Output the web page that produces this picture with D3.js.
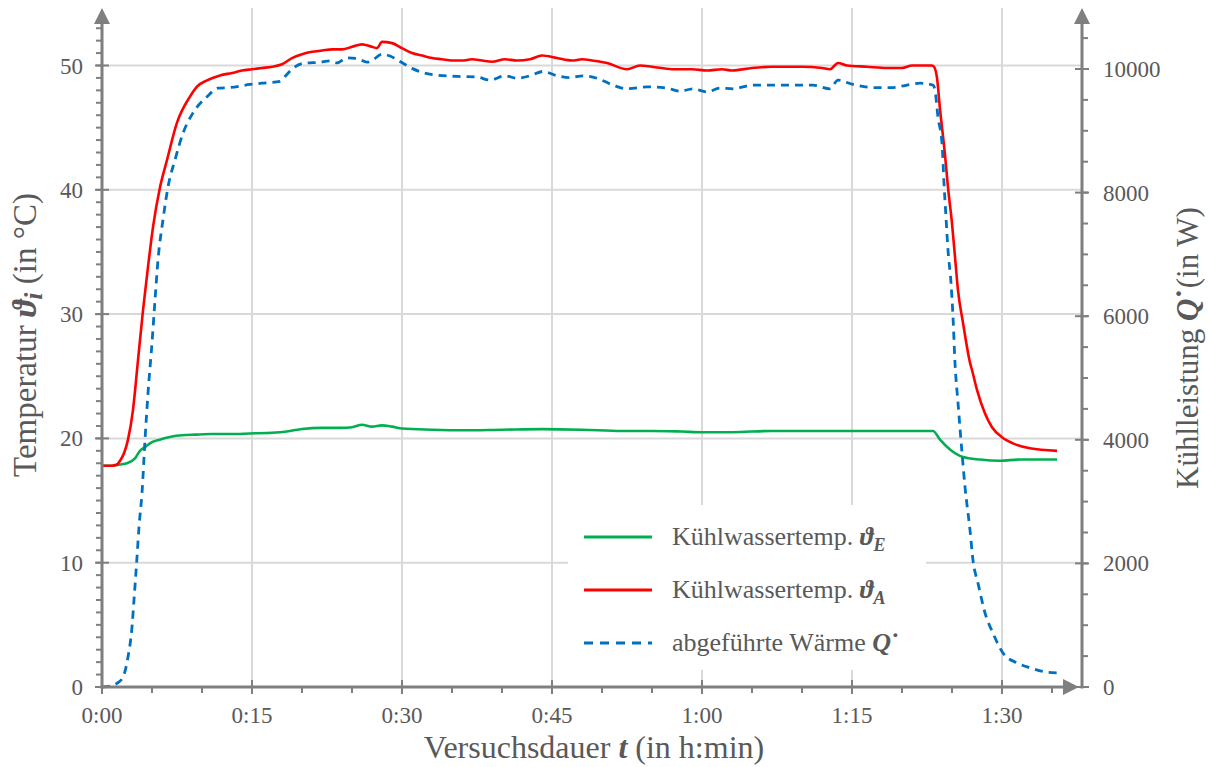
<!DOCTYPE html>
<html>
<head>
<meta charset="utf-8">
<script src="https://cdn.jsdelivr.net/npm/d3@7"></script>
<style>
  body { margin: 0; background: #fff; }
</style>
</head>
<body>
<div id="container"></div>
<script>
// time in minutes
const tE = [0, 1, 1.8, 2.5, 3.3, 3.8, 4.3, 5, 5.8, 7, 8, 9.3, 11, 13, 14.8, 17, 18.8, 20, 22, 24, 25, 26, 27, 28, 29, 30, 33, 36, 40, 44, 48, 52, 55, 58, 60, 63, 67, 70, 75, 80, 83.1, 83.8, 84.8, 86.1, 87.8, 89.8, 91.8, 95.5];
const vE = [17.8, 17.8, 17.9, 18.0, 18.4, 19.0, 19.3, 19.7, 19.9, 20.15, 20.25, 20.3, 20.35, 20.35, 20.4, 20.45, 20.6, 20.75, 20.85, 20.85, 20.9, 21.1, 20.95, 21.05, 20.95, 20.8, 20.7, 20.65, 20.7, 20.75, 20.7, 20.6, 20.6, 20.55, 20.5, 20.5, 20.6, 20.6, 20.6, 20.6, 20.6, 19.9, 19.1, 18.5, 18.3, 18.2, 18.3, 18.3];

const tA = [0, 1, 1.5, 1.8, 2.2, 2.6, 3.1, 3.6, 4.1, 4.6, 5.1, 5.8, 6.5, 7.5, 8.8, 9.5, 10.5, 11.8, 13, 14, 15, 16, 17, 18, 19, 20, 21, 22, 23, 24, 25, 26, 27, 27.5, 28, 29, 30, 31, 32, 33, 34, 35, 36, 37, 38, 39, 40.3, 41.5, 42.8, 44, 45.5, 47, 48, 49, 50.5, 52.5, 53.8, 55, 57, 59, 60.5, 62, 63, 65, 67, 70, 72, 72.8, 73.6, 74.5, 76.5, 78.5, 80, 81, 83, 83.2, 83.5, 83.8, 84.3, 84.6, 85, 85.3, 85.6, 86.1, 86.8, 87, 87.5, 88.3, 89, 90, 91.1, 92.8, 95.5];
const vA = [17.8, 17.8, 17.9, 18.2, 18.8, 19.9, 22.3, 26.3, 30.3, 33.8, 37.0, 40.2, 42.4, 45.4, 47.5, 48.3, 48.8, 49.2, 49.4, 49.6, 49.7, 49.8, 49.9, 50.1, 50.6, 50.9, 51.1, 51.2, 51.3, 51.3, 51.5, 51.7, 51.5, 51.4, 51.9, 51.8, 51.4, 51.0, 50.8, 50.6, 50.5, 50.4, 50.4, 50.5, 50.4, 50.3, 50.5, 50.4, 50.5, 50.8, 50.6, 50.4, 50.5, 50.4, 50.2, 49.7, 50.0, 49.9, 49.7, 49.7, 49.6, 49.7, 49.6, 49.8, 49.9, 49.9, 49.8, 49.7, 50.2, 50.0, 49.9, 49.8, 49.8, 50.0, 50.0, 49.9, 49.0, 46.5, 42.8, 40.2, 37.3, 34.6, 31.9, 29.3, 26.1, 25.5, 23.9, 22.0, 20.9, 20.1, 19.6, 19.2, 19.0];

const tQ = [0, 1, 1.5, 2.1, 2.6, 3.0, 3.2, 3.5, 3.7, 4.0, 4.3, 4.6, 5.0, 5.3, 5.6, 6.1, 6.6, 7.3, 8.1, 9.1, 10.5, 11.6, 12.8, 14.8, 16, 17.8, 18.3, 19.1, 20.1, 21.8, 22.8, 23.5, 24.5, 25.5, 26.5, 27.1, 28, 28.8, 29.8, 31, 32.1, 33.5, 35.5, 37.5, 38.8, 40.3, 41.5, 42.8, 44.1, 45.5, 46.8, 48.1, 49.5, 51.1, 52.5, 54.5, 56.5, 57.8, 59.1, 60.5, 61.8, 63.1, 65.1, 67.1, 69.8, 71.1, 72.8, 73.6, 75.1, 77.1, 79.1, 80.5, 81.8, 83.1, 83.3, 83.6, 84.0, 84.2, 84.4, 84.6, 84.9, 85.1, 85.3, 85.6, 86.0, 86.3, 86.8, 87.1, 87.6, 88.3, 89.1, 90.1, 91.5, 92.8, 94.5, 95.5];
const vQ = [0, 20, 60, 160, 485, 970, 1410, 2100, 2590, 3140, 4000, 4750, 5570, 6260, 6910, 7560, 8090, 8530, 8960, 9290, 9550, 9690, 9700, 9750, 9770, 9800, 9880, 10010, 10090, 10110, 10130, 10100, 10180, 10170, 10110, 10150, 10240, 10210, 10120, 10010, 9940, 9900, 9880, 9870, 9820, 9890, 9850, 9890, 9960, 9890, 9860, 9890, 9850, 9740, 9680, 9710, 9690, 9640, 9680, 9630, 9690, 9680, 9740, 9740, 9740, 9740, 9680, 9820, 9750, 9700, 9700, 9740, 9770, 9740, 9660, 9220, 8800, 8150, 7600, 7070, 6540, 5990, 5240, 4600, 3790, 3240, 2540, 2050, 1680, 1200, 870, 550, 390, 310, 240, 230];

const xTicks = [0, 15, 30, 45, 60, 75, 90];
const xTickLabels = ["0:00", "0:15", "0:30", "0:45", "1:00", "1:15", "1:30"];
const yLeftTicks = [0, 10, 20, 30, 40, 50];
const yRightTicks = [0, 2000, 4000, 6000, 8000, 10000];

const W = 1209, H = 767;
const axisCol = "#7f7f7f", gridCol = "#d9d9d9", textCol = "#595959";
const serif = "'Liberation Serif', 'DejaVu Serif', serif";

const svg = d3.select("#container").append("svg")
    .attr("width", W).attr("height", H)
    .attr("font-family", serif);

const x = d3.scaleLinear().domain([0, 90]).range([102, 1002]);
const yL = d3.scaleLinear().domain([0, 50]).range([687, 65.5]);
const yR = d3.scaleLinear().domain([0, 10000]).range([687, 69]);

const x0 = x(0), xEnd = 1082, yBase = yL(0), yTop = 8;

// grid
svg.append("g").selectAll("line")
    .data(yLeftTicks.filter(d => d > 0))
    .join("line")
    .attr("x1", x0).attr("x2", xEnd)
    .attr("y1", d => yL(d)).attr("y2", d => yL(d))
    .attr("stroke", gridCol).attr("stroke-width", 2);
svg.append("g").selectAll("line")
    .data(xTicks.filter(d => d > 0))
    .join("line")
    .attr("x1", d => x(d)).attr("x2", d => x(d))
    .attr("y1", yTop).attr("y2", yBase)
    .attr("stroke", gridCol).attr("stroke-width", 2);

// legend box (covers grid)
svg.append("rect")
    .attr("x", 568).attr("y", 505).attr("width", 358).attr("height", 165)
    .attr("fill", "#fff");

// curves
const lineL = (ts, vs) => d3.line().x((d, i) => x(ts[i])).y(d => yL(d)).curve(d3.curveMonotoneX)(vs);
const lineR = (ts, vs) => d3.line().x((d, i) => x(ts[i])).y(d => yR(d)).curve(d3.curveMonotoneX)(vs);

svg.append("path").attr("d", lineL(tE, vE))
    .attr("fill", "none").attr("stroke", "#00b050").attr("stroke-width", 2.6);
svg.append("path").attr("d", lineL(tA, vA))
    .attr("fill", "none").attr("stroke", "#ff0000").attr("stroke-width", 2.6);
svg.append("path").attr("d", lineR(tQ, vQ))
    .attr("fill", "none").attr("stroke", "#0070c0").attr("stroke-width", 2.8)
    .attr("stroke-dasharray", "8,6");

// axes
const ax = svg.append("g").attr("stroke", axisCol).attr("stroke-width", 3);
ax.append("line").attr("x1", x0).attr("x2", x0).attr("y1", yBase + 1.5).attr("y2", yTop + 12);
ax.append("line").attr("x1", xEnd).attr("x2", xEnd).attr("y1", yBase + 1.5).attr("y2", yTop + 12);
ax.append("line").attr("x1", x0 - 1.5).attr("x2", 1066).attr("y1", yBase).attr("y2", yBase);

const arrows = svg.append("g").attr("fill", axisCol);
arrows.append("path").attr("d", `M${x0},${yTop} L${x0 - 8},${yTop + 16} L${x0 + 8},${yTop + 16} Z`);
arrows.append("path").attr("d", `M${xEnd},${yTop} L${xEnd - 8},${yTop + 16} L${xEnd + 8},${yTop + 16} Z`);
arrows.append("path").attr("d", `M1079,${yBase} L1063,${yBase - 8} L1063,${yBase + 8} Z`);

const tk = svg.append("g").attr("stroke", axisCol).attr("stroke-width", 2);
// left ticks
tk.selectAll(".lmin").data(d3.range(1, 54)).join("line")
    .attr("x1", x0 - 6).attr("x2", x0).attr("y1", d => yL(d)).attr("y2", d => yL(d));
tk.selectAll(".lmaj").data(yLeftTicks).join("line")
    .attr("x1", x0 - 7).attr("x2", x0 + 7).attr("y1", d => yL(d)).attr("y2", d => yL(d));
// right ticks
tk.selectAll(".rmin").data(d3.range(500, 10600, 500)).join("line")
    .attr("x1", xEnd).attr("x2", xEnd + 6).attr("y1", d => yR(d)).attr("y2", d => yR(d));
tk.selectAll(".rmaj").data(yRightTicks).join("line")
    .attr("x1", xEnd - 7).attr("x2", xEnd + 7).attr("y1", d => yR(d)).attr("y2", d => yR(d));
// bottom ticks
tk.selectAll(".bmin").data(d3.range(5, 96, 5)).join("line")
    .attr("x1", d => x(d)).attr("x2", d => x(d)).attr("y1", yBase).attr("y2", yBase + 6);
tk.selectAll(".bmaj").data(xTicks).join("line")
    .attr("x1", d => x(d)).attr("x2", d => x(d)).attr("y1", yBase - 7).attr("y2", yBase + 7);

// tick labels
const txt = svg.append("g").attr("fill", textCol);
txt.append("g").selectAll("text").data(yLeftTicks).join("text")
    .attr("x", 83).attr("y", d => yL(d)).attr("dy", "0.35em")
    .attr("text-anchor", "end").attr("font-size", 23).text(d => d);
txt.append("g").selectAll("text").data(yRightTicks).join("text")
    .attr("x", 1103).attr("y", d => yR(d)).attr("dy", "0.35em")
    .attr("font-size", 23).text(d => d);
txt.append("g").selectAll("text").data(xTicks).join("text")
    .attr("x", d => x(d)).attr("y", 723)
    .attr("text-anchor", "middle").attr("font-size", 23).text((d, i) => xTickLabels[i]);

// axis titles
const xt = txt.append("text").attr("x", 594).attr("y", 758)
    .attr("text-anchor", "middle").attr("font-size", 32);
xt.append("tspan").text("Versuchsdauer ");
xt.append("tspan").attr("font-weight", "bold").attr("font-style", "italic").text("t");
xt.append("tspan").text(" (in h:min)");

const lt = txt.append("text").attr("transform", "translate(36,335) rotate(-90)")
    .attr("text-anchor", "middle").attr("font-size", 33);
lt.append("tspan").text("Temperatur ");
lt.append("tspan").attr("font-weight", "bold").attr("font-style", "italic").text("ϑ");
lt.append("tspan").attr("font-weight", "bold").attr("font-style", "italic")
    .attr("font-size", 26).attr("dy", 6).text("i");
lt.append("tspan").attr("dy", -6).text(" (in °C)");

const rt = txt.append("text").attr("transform", "translate(1198,348) rotate(-90)")
    .attr("text-anchor", "middle").attr("font-size", 31);
rt.append("tspan").text("Kühlleistung ");
rt.append("tspan").attr("font-weight", "bold").attr("font-style", "italic").text("Q");
rt.append("tspan").attr("font-weight", "bold").text("˙");
rt.append("tspan").text("(in W)");

// legend
const legItems = [
    { color: "#00b050", dash: null, label: "Kühlwassertemp. ", sym: "ϑ", sub: "E" },
    { color: "#ff0000", dash: null, label: "Kühlwassertemp. ", sym: "ϑ", sub: "A" },
    { color: "#0070c0", dash: "9,7", label: "abgeführte Wärme ", sym: "Q", sub: null }
];
const leg = svg.append("g");
legItems.forEach((it, i) => {
    const yy = 537 + i * 53;
    leg.append("line").attr("x1", 584).attr("x2", 652).attr("y1", yy).attr("y2", yy)
        .attr("stroke", it.color).attr("stroke-width", 2.8)
        .attr("stroke-dasharray", it.dash);
    const t = leg.append("text").attr("x", 672).attr("y", yy + 8)
        .attr("font-size", 26).attr("fill", textCol);
    t.append("tspan").text(it.label);
    t.append("tspan").attr("font-weight", "bold").attr("font-style", "italic").text(it.sym);
    if (it.sub) {
        t.append("tspan").attr("font-weight", "bold").attr("font-style", "italic")
            .attr("font-size", 18).attr("dy", 6).text(it.sub);
    } else {
        t.append("tspan").attr("font-weight", "bold").text("˙");
    }
});
</script>
</body>
</html>
